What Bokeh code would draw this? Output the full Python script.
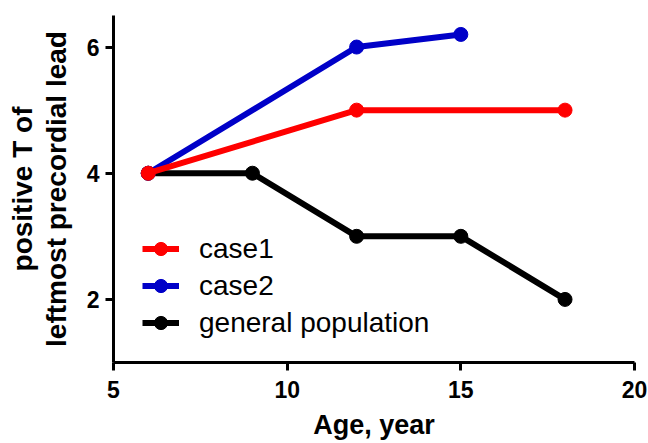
from bokeh.plotting import figure
from bokeh.models import Range1d, FixedTicker, Legend, LegendItem
from bokeh.embed import file_html
from bokeh.resources import INLINE

case1_x = [6, 12, 18]
case1_y = [4, 5, 5]
case2_x = [6, 12, 15]
case2_y = [4, 6, 6.2]
gen_x = [6, 9, 12, 15, 18]
gen_y = [4, 4, 3, 3, 2]
x_ticks = [5, 10, 15, 20]
y_ticks = [2, 4, 6]

FONT = "Liberation Sans"

p = figure(width=648, height=443, output_backend="svg", toolbar_location=None,
           x_range=Range1d(5, 20), y_range=Range1d(1, 6.5),
           min_border_left=113, min_border_right=14, min_border_top=15, min_border_bottom=81)
p.outline_line_color = None
p.grid.visible = False
p.background_fill_color = "white"
p.border_fill_color = "white"

for ax in (p.xaxis[0], p.yaxis[0]):
    ax.axis_line_width = 3
    ax.axis_line_color = "black"
    ax.major_tick_line_width = 3
    ax.major_tick_out = 8
    ax.major_tick_in = 0
    ax.minor_tick_out = 0
    ax.minor_tick_in = 0
    ax.major_label_text_font = FONT
    ax.major_label_text_font_style = "bold"
    ax.major_label_text_font_size = "23px"
    ax.major_label_text_color = "black"
    ax.axis_label_text_font = FONT
    ax.axis_label_text_font_style = "bold"
    ax.axis_label_text_font_size = "28px"
    ax.axis_label_text_color = "black"

p.xaxis.ticker = FixedTicker(ticks=x_ticks)
p.yaxis.ticker = FixedTicker(ticks=y_ticks)
p.xaxis.major_label_standoff = 10
p.yaxis.major_label_standoff = 6
p.xaxis.axis_label = "Age, year"
p.xaxis.axis_label_text_font_size = "27px"
p.xaxis.axis_label_standoff = 9
p.yaxis.axis_label = "positive T of\nleftmost precordial lead"
p.yaxis.axis_label_text_line_height = 1.1
p.yaxis.axis_label_standoff = 12

RED = "#FF0000"
BLUE = "#0000C8"
BLACK = "#000000"

gl = p.line(gen_x, gen_y, line_color=BLACK, line_width=6)
gs = p.scatter(gen_x, gen_y, size=14, fill_color=BLACK, line_color=BLACK)
bl = p.line(case2_x, case2_y, line_color=BLUE, line_width=6)
bs = p.scatter(case2_x, case2_y, size=14, fill_color=BLUE, line_color=BLUE)
rl = p.line(case1_x, case1_y, line_color=RED, line_width=6)
rs = p.scatter(case1_x, case1_y, size=14, fill_color=RED, line_color=RED)

legend = Legend(items=[
    LegendItem(label="case1", renderers=[rl, rs]),
    LegendItem(label="case2", renderers=[bl, bs]),
    LegendItem(label="general population", renderers=[gl, gs]),
], location=(29, 23))
legend.border_line_color = None
legend.background_fill_alpha = 0
legend.padding = 0
legend.margin = 0
legend.spacing = 4
legend.glyph_width = 37
legend.glyph_height = 33
legend.label_height = 31
legend.label_standoff = 20
legend.label_text_font = FONT
legend.label_text_font_size = "28px"
legend.label_text_color = "black"
p.add_layout(legend)

open("out.html", "w").write(file_html(p, INLINE))
